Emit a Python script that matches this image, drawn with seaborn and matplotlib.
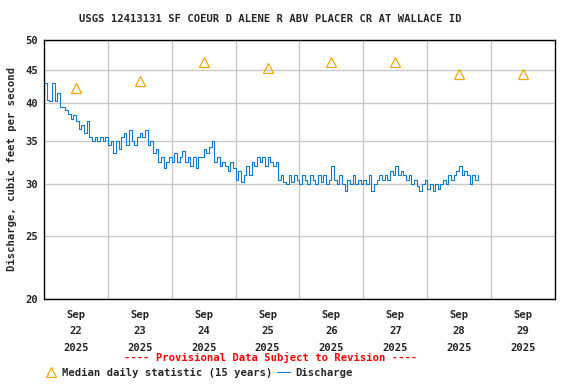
import numpy as np
import pandas as pd
import matplotlib
matplotlib.use("Agg")
import matplotlib.pyplot as plt
import matplotlib.dates as mdates
from matplotlib.lines import Line2D
from matplotlib.ticker import FixedLocator, NullLocator, FixedFormatter
import seaborn as sns

# hourly discharge (cfs), one list per day
sep22 = [43.0, 40.5, 40.3, 43.0, 40.3, 41.5, 39.5, 39.5, 39.0, 38.5, 37.8, 38.3,
         37.5, 36.5, 37.0, 36.0, 37.5, 35.5, 35.0, 35.5, 35.0, 35.5, 35.0, 35.5]
sep23 = [34.5, 35.0, 33.5, 35.0, 34.0, 35.5, 36.0, 34.5, 36.3, 35.0, 34.5, 35.5,
         36.0, 35.5, 36.3, 34.5, 35.0, 33.5, 34.0, 32.5, 33.0, 31.8, 32.5, 33.0]
sep24 = [32.5, 33.5, 32.5, 33.0, 33.7, 32.5, 33.0, 32.0, 33.0, 31.8, 33.0, 33.0,
         34.0, 33.5, 34.3, 35.0, 32.5, 33.0, 32.0, 32.5, 32.0, 31.5, 32.5, 31.8]
sep25 = [30.5, 31.5, 30.3, 31.0, 32.0, 31.0, 32.5, 32.0, 33.0, 32.5, 33.0, 32.0,
         33.0, 32.5, 32.0, 32.5, 30.5, 31.0, 30.3, 30.0, 31.0, 30.3, 31.0, 30.5]
sep26 = [30.0, 31.0, 30.5, 30.0, 31.0, 30.5, 30.0, 31.0, 30.3, 31.0, 30.0, 30.5,
         32.0, 30.5, 30.0, 31.0, 30.0, 29.3, 30.5, 30.0, 31.0, 30.0, 30.5, 30.0]
sep27 = [30.5, 30.0, 31.0, 29.3, 30.0, 30.5, 31.0, 30.5, 31.0, 30.5, 31.5, 31.0,
         32.0, 31.0, 31.5, 31.0, 30.5, 31.0, 30.0, 30.5, 29.8, 29.3, 30.0, 30.5]
sep28 = [29.5, 30.0, 29.3, 30.0, 29.5, 30.0, 30.5, 30.0, 31.0, 30.5, 31.0, 31.5,
         32.0, 31.0, 31.5, 31.0, 30.0, 31.0, 30.5, 31.0]

# median daily statistic (15 years), at noon each day
median_days = ["2025-09-22", "2025-09-23", "2025-09-24", "2025-09-25",
               "2025-09-26", "2025-09-27", "2025-09-28", "2025-09-29"]
median_vals = [42.2, 43.2, 46.3, 45.3, 46.2, 46.2, 44.3, 44.3]

y_ticks = [20, 25, 30, 35, 40, 45, 50]

flow = sep22 + sep23 + sep24 + sep25 + sep26 + sep27 + sep28
df = pd.DataFrame({
    "time": pd.date_range("2025-09-22 00:00", periods=len(flow), freq="h"),
    "cfs": flow,
})
med = pd.DataFrame({
    "time": pd.to_datetime(median_days) + pd.Timedelta(hours=12),
    "cfs": median_vals,
})

sns.set_style("white")
plt.rcParams["font.family"] = ["DejaVu Sans Mono"]
plt.rcParams["font.weight"] = "bold"
fs = 7.6

fig = plt.figure(figsize=(5.76, 3.84), dpi=100)
ax = fig.add_axes([0.0764, 0.2214, 0.887, 0.6745])

blue = "#0a7fcf"
orange = "#ffa500"

sns.lineplot(data=df, x="time", y="cfs", ax=ax, color=blue, lw=0.8,
             drawstyle="steps-post", estimator=None, legend=False)
ax.plot(med["time"], med["cfs"], ls="none", marker="^", ms=7,
        mfc="none", mec=orange, mew=0.9, clip_on=False)

ax.set_yscale("log")
ax.set_ylim(20, 50)
ax.yaxis.set_major_locator(FixedLocator(y_ticks))
ax.yaxis.set_major_formatter(FixedFormatter([str(v) for v in y_ticks]))
ax.yaxis.set_minor_locator(NullLocator())

start = pd.Timestamp("2025-09-22")
ax.set_xlim(start, start + pd.Timedelta(days=8))
mids = [start + pd.Timedelta(days=i) for i in range(1, 8)]
noons = [start + pd.Timedelta(days=i, hours=12) for i in range(8)]
ax.set_xticks(mids)
ax.set_xticklabels([])
ax.set_xticks(noons, minor=True)
ax.set_xticklabels([d.strftime("%b\n%d\n%Y") for d in noons], minor=True,
                   fontsize=fs, fontweight="bold", linespacing=1.8)
ax.tick_params(axis="x", which="both", length=0, pad=8)
ax.tick_params(axis="y", length=0, labelsize=fs, pad=4)
for lab in ax.get_yticklabels():
    lab.set_fontweight("bold")

ax.grid(True, which="major", color="#c8c8c8", lw=1)
for s in ax.spines.values():
    s.set_color("black")
    s.set_linewidth(1)

ax.set_xlabel("")
ax.set_ylabel("Discharge, cubic feet per second", fontsize=fs,
              fontweight="bold", labelpad=6)

fig.text(0.47, 0.95, "USGS 12413131 SF COEUR D ALENE R ABV PLACER CR AT WALLACE ID",
         ha="center", va="center", fontsize=fs, fontweight="bold")
fig.text(0.47, 0.068, "---- Provisional Data Subject to Revision ----",
         ha="center", va="center", fontsize=fs, fontweight="bold", color="red")

handles = [
    Line2D([], [], ls="none", marker="^", ms=7, mfc="none", mec=orange, mew=0.9),
    Line2D([], [], color=blue, lw=0.8),
]
fig.legend(handles, ["Median daily statistic (15 years)", "Discharge"],
           loc="center left", bbox_to_anchor=(0.077, 0.029), ncol=2,
           frameon=False, fontsize=fs, handlelength=1.2, handletextpad=0.5,
           columnspacing=0.4, borderpad=0, borderaxespad=0)

fig.savefig("out.png", dpi=100)
